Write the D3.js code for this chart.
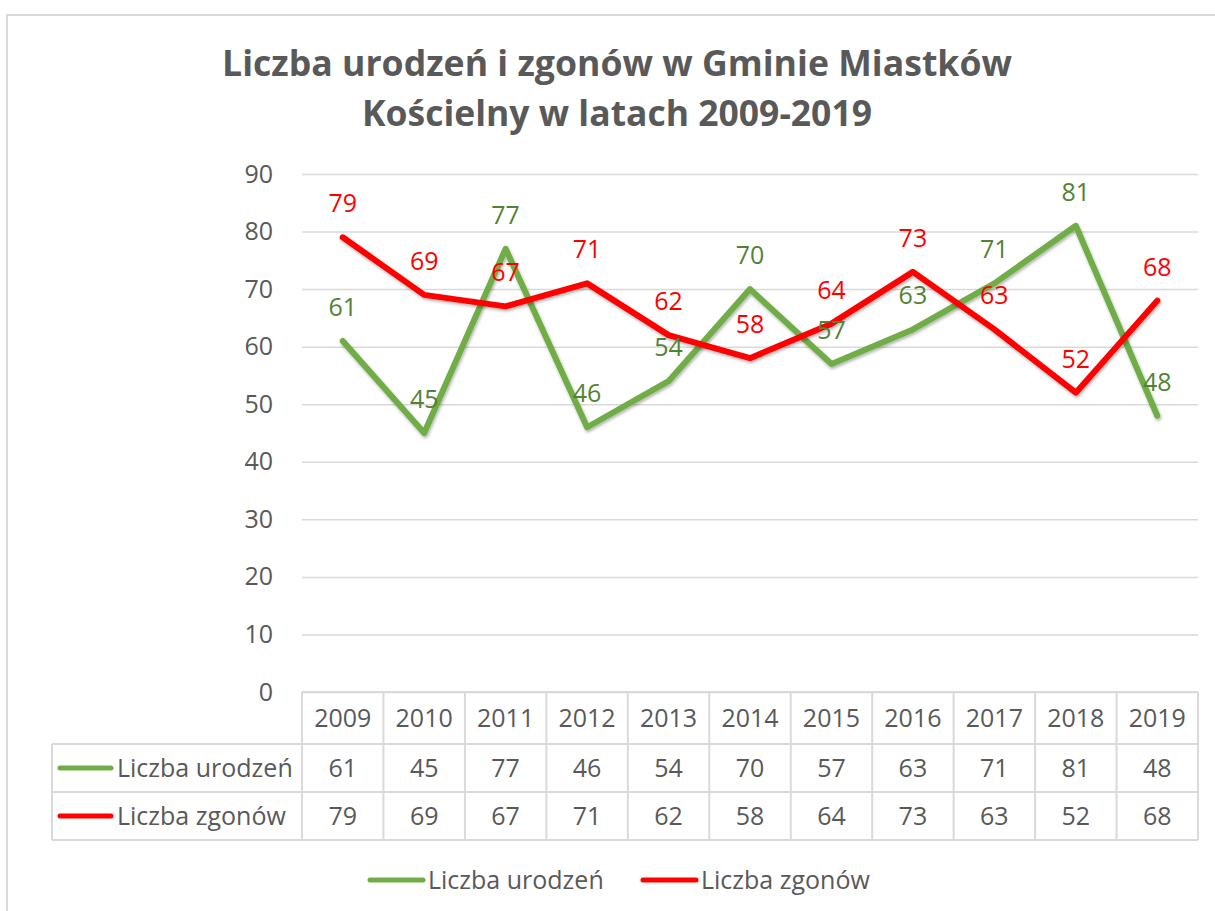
<!DOCTYPE html>
<html>
<head>
<meta charset="utf-8">
<script src="https://cdnjs.cloudflare.com/ajax/libs/d3/7.8.5/d3.min.js"></script>
<style>
  body { margin: 0; background: #fff; }
  text { font-family: "Open Sans", sans-serif; fill: #595959; }
  .grid line { stroke: #d9d9d9; stroke-width: 1.5px; }
  .grid path.domain { display: none; }
  .yaxis path.domain { display: none; }
</style>
</head>
<body>
<svg id="chart" width="1215" height="911"></svg>
<script>
// data
var years = [2009, 2010, 2011, 2012, 2013, 2014, 2015, 2016, 2017, 2018, 2019];
var urodzenia = [61, 45, 77, 46, 54, 70, 57, 63, 71, 81, 48];
var zgony = [79, 69, 67, 71, 62, 58, 64, 73, 63, 52, 68];
var seriesNames = ["Liczba urodzeń", "Liczba zgonów"];
var yTicks = [0, 10, 20, 30, 40, 50, 60, 70, 80, 90];
var titleLines = ["Liczba urodzeń i zgonów w Gminie Miastków", "Kościelny w latach 2009-2019"];

var series = [
  { name: seriesNames[0], values: urodzenia, color: "#70AD47", labelColor: "#548235" },
  { name: seriesNames[1], values: zgony, color: "#FF0000", labelColor: "#FF0000" }
];

var svg = d3.select("#chart");
var plotLeft = 302, plotRight = 1198, plotTop = 174, plotBottom = 692;
var rowH = [52, 48, 48];   // header, row 1, row 2
var tableLeft = 52;
var fs = "25px";

// outer chart border
svg.append("rect")
  .attr("x", 7).attr("y", 15)
  .attr("width", 1240).attr("height", 940)
  .attr("fill", "#fff")
  .attr("stroke", "#d9d9d9").attr("stroke-width", 2);

var defs = svg.append("defs");
var f = defs.append("filter").attr("id", "shadow")
  .attr("x", "-5%").attr("y", "-5%").attr("width", "110%").attr("height", "115%");
f.append("feDropShadow").attr("dx", 1).attr("dy", 2)
  .attr("stdDeviation", 1.5).attr("flood-color", "#000").attr("flood-opacity", 0.3);

// title
var title = svg.append("g");
titleLines.forEach(function(t, i) {
  var el = title.append("text")
    .attr("x", 617).attr("y", 76 + i * 50)
    .attr("text-anchor", "middle")
    .style("font-size", "36px").style("font-weight", "bold")
    .text(t);
  var target = i === 0 ? 790 : 510;
  if (el.node().getComputedTextLength() > target)
    el.attr("textLength", target).attr("lengthAdjust", "spacingAndGlyphs");
});

var x = d3.scaleBand().domain(years).range([plotLeft, plotRight]);
var y = d3.scaleLinear().domain([0, 90]).range([plotBottom, plotTop]);
var cx = function(yr) { return x(yr) + x.bandwidth() / 2; };

// gridlines
svg.append("g").attr("class", "grid")
  .attr("transform", "translate(" + plotLeft + ",0)")
  .call(d3.axisLeft(y).tickValues(yTicks).tickSize(-(plotRight - plotLeft)).tickFormat(""));

// y tick labels
var ya = svg.append("g").attr("class", "yaxis")
  .attr("transform", "translate(" + plotLeft + ",0)")
  .call(d3.axisLeft(y).tickValues(yTicks).tickSize(0).tickPadding(29));
ya.selectAll("text").style("font-size", fs).attr("fill", "#595959")
  .style("font-family", "'Open Sans', sans-serif");

// lines
var line = d3.line()
  .x(function(d, i) { return cx(years[i]); })
  .y(function(d) { return y(d); });

series.forEach(function(s) {
  svg.append("path")
    .datum(s.values)
    .attr("d", line)
    .attr("fill", "none")
    .attr("stroke", s.color)
    .attr("stroke-width", 6)
    .attr("stroke-linejoin", "round")
    .attr("stroke-linecap", "round")
    .attr("filter", "url(#shadow)");
});

// data labels (above)
series.forEach(function(s) {
  svg.append("g").selectAll("text")
    .data(s.values).enter()
    .append("text")
    .attr("x", function(d, i) { return cx(years[i]); })
    .attr("y", function(d) { return y(d) - 25; })
    .attr("text-anchor", "middle")
    .style("font-size", fs)
    .style("fill", s.labelColor)
    .text(function(d) { return d; });
});

// data table
var rowTop = [plotBottom, plotBottom + rowH[0], plotBottom + rowH[0] + rowH[1]];
var tableBottom = rowTop[2] + rowH[2];
var tg = svg.append("g").attr("stroke", "#d9d9d9").attr("stroke-width", 2);

tg.append("line").attr("x1", plotLeft).attr("x2", plotRight).attr("y1", rowTop[0]).attr("y2", rowTop[0]);
[rowTop[1], rowTop[2], tableBottom].forEach(function(yy) {
  tg.append("line").attr("x1", tableLeft).attr("x2", plotRight).attr("y1", yy).attr("y2", yy);
});
tg.append("line").attr("x1", tableLeft).attr("x2", tableLeft).attr("y1", rowTop[1]).attr("y2", tableBottom);
years.forEach(function(yr) {
  tg.append("line").attr("x1", x(yr)).attr("x2", x(yr)).attr("y1", rowTop[0]).attr("y2", tableBottom);
});
tg.append("line").attr("x1", plotRight).attr("x2", plotRight).attr("y1", rowTop[0]).attr("y2", tableBottom);

// header cells
svg.append("g").selectAll("text")
  .data(years).enter()
  .append("text")
  .attr("x", cx)
  .attr("y", rowTop[0] + rowH[0] / 2)
  .attr("dy", "0.35em")
  .attr("text-anchor", "middle")
  .style("font-size", fs)
  .text(function(d) { return d; });

series.forEach(function(s, r) {
  var cy = rowTop[r + 1] + rowH[r + 1] / 2;
  svg.append("line")
    .attr("x1", 60).attr("x2", 111).attr("y1", cy).attr("y2", cy)
    .attr("stroke", s.color).attr("stroke-width", 5).attr("stroke-linecap", "round");
  svg.append("text")
    .attr("x", 117).attr("y", cy).attr("dy", "0.35em")
    .style("font-size", fs)
    .text(s.name);
  svg.append("g").selectAll("text")
    .data(s.values).enter()
    .append("text")
    .attr("x", function(d, i) { return cx(years[i]); })
    .attr("y", cy).attr("dy", "0.35em")
    .attr("text-anchor", "middle")
    .style("font-size", fs)
    .text(function(d) { return d; });
});

// legend
var legendX = [370, 643];
series.forEach(function(s, i) {
  var ly = 880;
  svg.append("line")
    .attr("x1", legendX[i]).attr("x2", legendX[i] + 53).attr("y1", ly).attr("y2", ly)
    .attr("stroke", s.color).attr("stroke-width", 5).attr("stroke-linecap", "round");
  svg.append("text")
    .attr("x", legendX[i] + 58).attr("y", ly).attr("dy", "0.35em")
    .style("font-size", fs)
    .text(s.name);
});
</script>
</body>
</html>
